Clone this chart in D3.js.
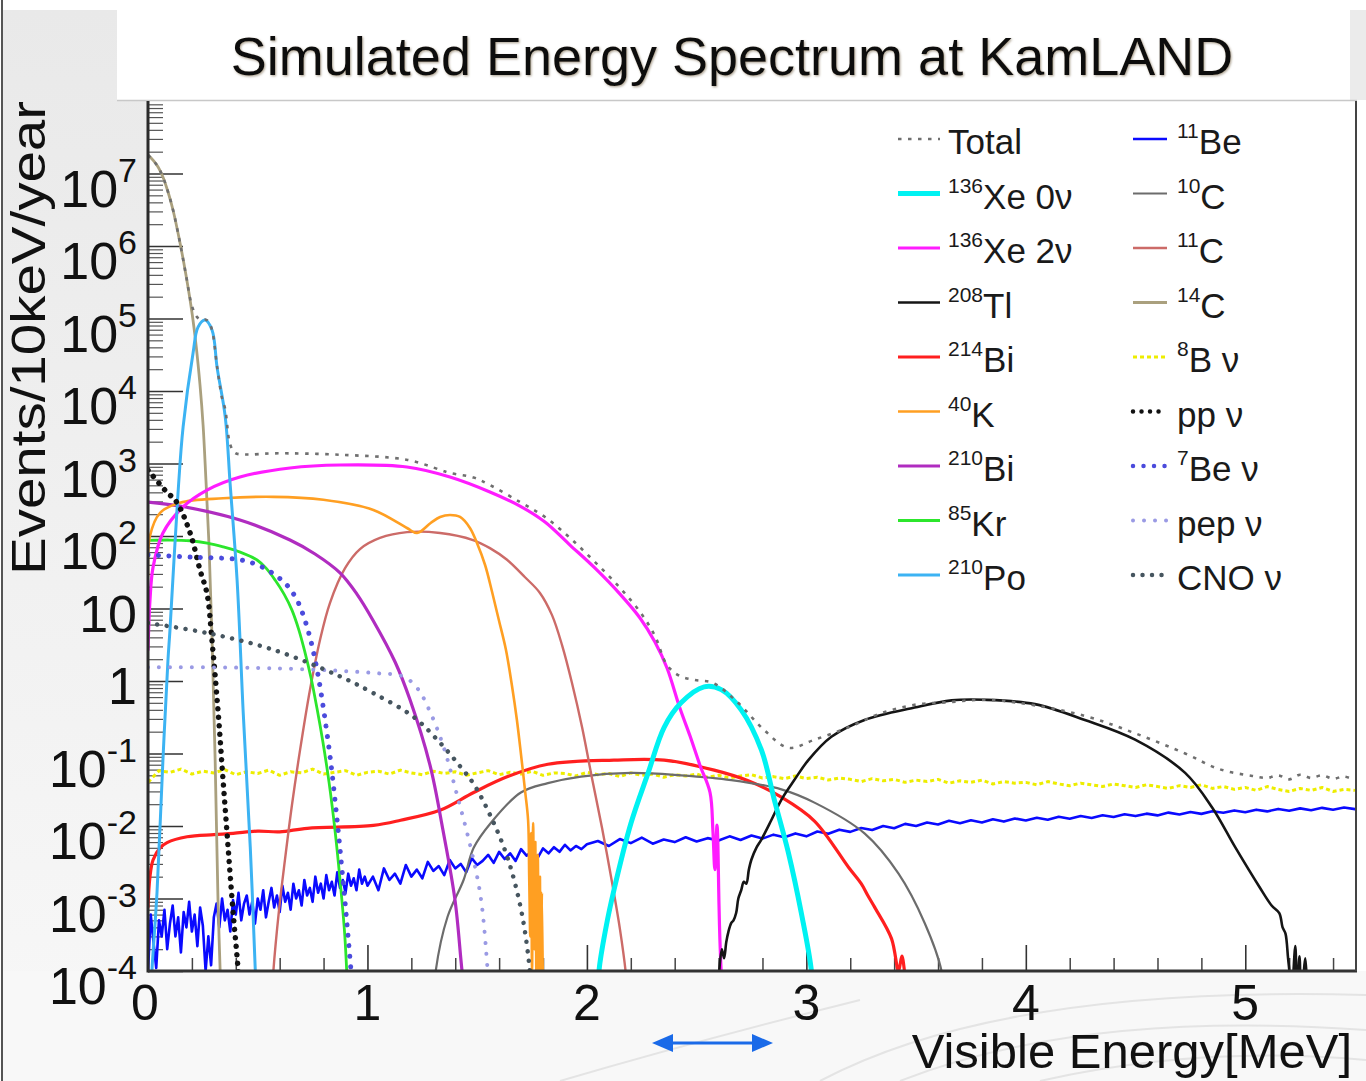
<!DOCTYPE html>
<html>
<head>
<meta charset="utf-8">
<script src="https://cdn.jsdelivr.net/npm/d3@7"></script>
<style>
  html, body { margin: 0; padding: 0; background: #fff; }
  svg { display: block; font-family: "Liberation Sans", Arial, Helvetica, sans-serif; }
</style>
</head>
<body>
<svg id="chart" width="1366" height="1081"></svg>
<script>
// ---------------- axis ticks ----------------
const xTickValues = [0, 1, 2, 3, 4, 5];
const xTickLabels = ['0', '1', '2', '3', '4', '5'];
const yTickValues = [1e-4, 1e-3, 1e-2, 1e-1, 1, 10, 1e2, 1e3, 1e4, 1e5, 1e6, 1e7];
const yTickBase   = ['10', '10', '10', '10', '1', '10', '10', '10', '10', '10', '10', '10'];
const yTickExp    = ['-4', '-3', '-2', '-1', '', '', '2', '3', '4', '5', '6', '7'];

// ---------------- spectra: [visible energy (MeV), events / 10 keV / year] ----------------
const total = [[0,1.8e7],[0.023,1.53e7],[0.046,1.23e7],[0.068,9.0e6],[0.091,5.6e6],[0.114,3.15e6],
  [0.146,1.1e6],[0.173,4.0e5],[0.2,1.5e5],[0.223,1.05e5],[0.245,9.5e4],[0.26,9.7e4],[0.276,9.0e4],
  [0.292,6.9e4],[0.315,2.15e4],[0.338,7.8e3],[0.352,5.6e3],[0.374,1.85e3],[0.397,1.4e3],[0.45,1.33e3],
  [0.571,1.38e3],[0.877,1.32e3],[1.183,1.12e3],[1.333,815],[1.376,740],[1.484,640],[1.558,505],[1.695,294],
  [1.809,183],[1.923,94],[2.037,43.7],[2.151,19.2],[2.242,9.0],[2.31,4.2],[2.365,1.66],[2.424,1.17],
  [2.493,1.03],[2.575,0.94],[2.689,0.5],[2.808,0.21],[2.918,0.12],[3.037,0.155],[3.192,0.23],[3.342,0.36],
  [3.493,0.47],[3.648,0.51],[3.799,0.55],[3.968,0.5],[4.269,0.33],[4.498,0.19],[4.726,0.1],[4.881,0.061],
  [5.032,0.049],[5.1,0.046],[5.15,0.05],[5.2,0.044],[5.25,0.051],[5.3,0.046],[5.35,0.05],[5.4,0.045],
  [5.45,0.048],[5.5,0.043]];

const xe0nu = [[2.05,3e-5],[2.055,1e-4],[2.087,4e-4],[2.123,1.3e-3],[2.201,0.011],[2.279,0.054],[2.352,0.23],
  [2.429,0.5],[2.534,0.83],[2.612,0.76],[2.703,0.4],[2.795,0.112],[2.854,0.023],[2.918,4.3e-3],[2.977,6.3e-4],
  [3.023,1e-4],[3.03,3e-5]];

const xe2nu = [[0,2.7],[0.009,13],[0.023,37],[0.068,110],[0.159,251],[0.269,430],[0.419,651],[0.647,867],
  [0.875,953],[1.18,895],[1.376,651],[1.558,405],[1.695,259],[1.809,156],[1.923,75],[2.037,36],[2.151,15.8],
  [2.242,7.4],[2.31,3.45],[2.365,1.51],[2.424,0.42],[2.47,0.174],[2.515,0.069],[2.561,0.029],[2.574,8.8e-3],
  [2.583,2.5e-3],[2.593,0.0103],[2.602,8e-4],[2.606,2.7e-4],[2.615,5.5e-5]];

const tl208 = [[2.595,3e-5],[2.603,1e-4],[2.615,2e-4],[2.625,1.5e-4],[2.635,2.5e-4],[2.645,3.5e-4],[2.658,4.6e-4],
  [2.668,5e-4],[2.68,6.3e-4],[2.69,1.0e-3],[2.703,1.3e-3],[2.715,1.7e-3],[2.726,1.6e-3],[2.738,2.5e-3],
  [2.749,3.4e-3],[2.772,5e-3],[2.795,6.5e-3],[2.84,0.012],[2.886,0.023],[2.945,0.043],[3.009,0.081],
  [3.114,0.17],[3.265,0.29],[3.493,0.43],[3.662,0.54],[3.813,0.55],[4.041,0.48],[4.269,0.29],[4.498,0.155],
  [4.726,0.054],[4.849,0.018],[4.954,5.1e-3],[5.064,1.45e-3],[5.12,8e-4],[5.155,6.3e-4],[5.17,4e-4],
  [5.183,3.3e-4],[5.195,1.5e-4],[5.201,1e-4],[5.21,4e-5],[5.228,2.2e-4],[5.235,5e-5],[5.247,1.6e-4],
  [5.255,4e-5],[5.274,1.5e-4],[5.285,3e-5]];

const bi214 = [[0,7.6e-4],[0.009,2e-3],[0.023,3.4e-3],[0.055,5e-3],[0.087,5.9e-3],[0.178,7.1e-3],[0.3,7.6e-3],
  [0.388,7.9e-3],[0.5,8.5e-3],[0.6,8.3e-3],[0.726,9.3e-3],[1.027,0.0102],[1.151,0.012],[1.333,0.0166],
  [1.484,0.029],[1.639,0.048],[1.822,0.071],[2.123,0.081],[2.352,0.081],[2.58,0.059],[2.735,0.042],
  [2.886,0.025],[3.037,0.0117],[3.192,2.7e-3],[3.25,1.6e-3],[3.28,1.1e-3],[3.311,7.6e-4],[3.388,2.8e-4],
  [3.42,1e-4],[3.435,1.6e-4],[3.447,1e-4],[3.46,3e-5]];

const k40 = [[0,28],[0.009,100],[0.055,209],[0.146,288],[0.342,331],[0.571,347],[0.799,316],[1.027,229],
  [1.18,129],[1.226,110],[1.288,151],[1.331,183],[1.376,195],[1.422,183],[1.467,129],[1.499,80],[1.536,39.8],
  [1.568,16.9],[1.599,6.9],[1.631,2.7],[1.658,0.88],[1.681,0.29],[1.7,0.095],[1.718,0.031],[1.732,0.012],
  [1.737,2e-3],[1.742,3e-4],[1.746,8e-3],[1.75,1e-4],[1.755,1.1e-2],[1.76,2e-4],[1.765,6e-3],[1.77,5e-5],
  [1.776,4e-3],[1.781,1e-4],[1.786,2e-3],[1.79,4e-5],[1.795,1.2e-3],[1.8,3e-5]];

const bi210 = [[0,294],[0.146,259],[0.419,166],[0.647,88],[0.761,56.5],[0.875,31],[0.952,15.8],[1.025,6.9],
  [1.126,1.83],[1.194,0.55],[1.285,0.069],[1.344,8.8e-3],[1.399,9.5e-4],[1.431,1e-4],[1.458,2e-5]];

const kr85 = [[0,87],[0.1,88],[0.192,86],[0.27,80],[0.342,71],[0.42,60],[0.497,46.7],[0.538,36],[0.579,24.7],
  [0.62,15.8],[0.656,9.5],[0.688,5.0],[0.715,2.5],[0.743,1.1],[0.77,0.42],[0.797,0.144],[0.825,0.04],
  [0.852,8.8e-3],[0.875,1.8e-3],[0.897,3e-4],[0.915,2e-5]];

const po210 = [[0.012,3e-5],[0.018,1e-4],[0.041,1.2e-3],[0.068,0.081],[0.091,1.95],[0.1,5.0],[0.137,400],
  [0.16,3.2e3],[0.205,3.3e4],[0.228,7.6e4],[0.26,9.5e4],[0.292,6.9e4],[0.315,2.1e4],[0.352,4.4e3],
  [0.374,537],[0.406,24.5],[0.434,0.36],[0.466,5.1e-3],[0.489,1e-4],[0.495,3e-5]];

// 11Be bin contents: 12.5 keV steps below 1 MeV, 25 keV up to 2 MeV, 50 keV above
const be11Fine = [1.0e-4,6.0e-4,2.5e-4,1.1e-4,5.0e-4,3.0e-4,7.0e-4,2.0e-4,4.5e-4,8.0e-4,
  3.0e-4,5.5e-4,1.8e-4,6.5e-4,4.0e-4,9.0e-4,3.5e-4,6.0e-4,2.2e-4,7.5e-4,
  4.2e-4,1.0e-4,3.0e-4,1.2e-4,5.5e-4,8.5e-4,4.0e-4,1.0e-3,5.0e-4,7.0e-4,
  3.5e-4,9.5e-4,6.0e-4,1.2e-3,5.0e-4,8.5e-4,1.1e-3,6.0e-4,9.0e-4,4.5e-4,
  1.0e-3,7.0e-4,1.3e-3,5.5e-4,9.0e-4,1.4e-3,7.5e-4,1.1e-3,6.5e-4,1.5e-3,
  9.0e-4,1.2e-3,7.0e-4,1.6e-3,1.0e-3,1.3e-3,8.0e-4,1.8e-3,1.1e-3,1.4e-3,
  9.0e-4,2.0e-3,1.2e-3,1.6e-3,1.0e-3,2.1e-3,1.3e-3,1.7e-3,1.1e-3,2.3e-3,
  1.4e-3,1.8e-3,1.2e-3,2.2e-3,1.5e-3,1.9e-3,1.3e-3,2.5e-3,1.6e-3,2.0e-3];
const be11Mid = [1.5e-3,2.0e-3,1.3e-3,2.6e-3,1.8e-3,2.2e-3,1.6e-3,2.9e-3,2.0e-3,2.5e-3,
  1.9e-3,3.2e-3,2.4e-3,2.8e-3,2.1e-3,3.4e-3,2.6e-3,3.0e-3,2.3e-3,3.6e-3,
  2.9e-3,3.3e-3,4.0e-3,3.1e-3,4.4e-3,3.5e-3,4.2e-3,3.3e-3,4.8e-3,3.9e-3,
  4.5e-3,3.6e-3,4.9e-3,4.2e-3,5.1e-3,4.4e-3,5.5e-3,4.6e-3,5.3e-3,4.8e-3,5.6e-3];
const be11High = [6.2e-3,5.3e-3,6.6e-3,5.8e-3,6.9e-3,5.7e-3,6.5e-3,6.0e-3,7.0e-3,6.1e-3,6.8e-3,6.3e-3,7.2e-3,
  6.4e-3,7.4e-3,6.7e-3,7.6e-3,7.0e-3,7.9e-3,7.2e-3,8.4e-3,7.8e-3,8.9e-3,8.3e-3,9.4e-3,8.8e-3,1.0e-2,9.3e-3,
  1.07e-2,1.0e-2,1.12e-2,1.05e-2,1.18e-2,1.09e-2,1.2e-2,1.12e-2,1.24e-2,1.15e-2,1.27e-2,1.19e-2,1.3e-2,
  1.22e-2,1.34e-2,1.26e-2,1.37e-2,1.29e-2,1.41e-2,1.33e-2,1.45e-2,1.37e-2,1.48e-2,1.4e-2,1.53e-2,1.44e-2,
  1.56e-2,1.47e-2,1.6e-2,1.52e-2,1.64e-2,1.55e-2,1.68e-2,1.59e-2,1.72e-2,1.62e-2,1.75e-2,1.65e-2,1.78e-2,
  1.68e-2,1.8e-2,1.71e-2];

const c10 = [[1.3,3e-5],[1.311,1e-4],[1.365,5.6e-4],[1.438,1.8e-3],[1.484,5e-3],[1.562,0.011],[1.699,0.029],
  [1.822,0.039],[1.973,0.048],[2.201,0.054],[2.429,0.05],[2.658,0.043],[2.886,0.032],[3.037,0.021],
  [3.265,7.9e-3],[3.42,2.2e-3],[3.539,4.6e-4],[3.616,1e-4],[3.63,3e-5]];

const c11 = [[0.56,2e-5],[0.57,8.8e-5],[0.597,6.9e-4],[0.624,3.4e-3],[0.656,0.0195],[0.693,0.112],[0.738,0.75],
  [0.784,3.7],[0.829,11.9],[0.898,36],[0.966,66],[1.057,94],[1.18,113],[1.331,110],[1.481,88],[1.558,68],
  [1.636,47],[1.718,27],[1.786,16.4],[1.841,8.1],[1.887,3.1],[1.932,0.94],[1.978,0.23],[2.023,0.046],
  [2.069,9.4e-3],[2.114,1.7e-3],[2.151,3.7e-4],[2.178,8.8e-5],[2.19,2e-5]];

const c14 = [[0,1.8e7],[0.023,1.53e7],[0.046,1.23e7],[0.068,8.96e6],[0.091,5.6e6],[0.114,3.14e6],[0.146,1.1e6],
  [0.173,3.98e5],[0.2,1.23e5],[0.219,4.3e4],[0.237,1.21e4],[0.251,3.4e3],[0.264,592],[0.278,75],[0.292,3.7],
  [0.306,0.081],[0.319,9.5e-4],[0.333,4e-5]];

// 8B neutrinos, 50 keV steps from 0 to 5.5 MeV
const b8nu = [0.040,0.058,0.055,0.061,0.052,0.057,0.054,0.060,0.051,0.056,
  0.053,0.059,0.050,0.056,0.054,0.061,0.052,0.055,0.058,0.050,
  0.055,0.057,0.052,0.059,0.054,0.051,0.057,0.053,0.056,0.050,
  0.054,0.058,0.051,0.055,0.052,0.057,0.050,0.054,0.053,0.049,
  0.055,0.051,0.053,0.048,0.054,0.050,0.052,0.047,0.051,0.049,
  0.052,0.047,0.050,0.046,0.049,0.051,0.046,0.048,0.045,0.049,
  0.045,0.047,0.043,0.046,0.044,0.041,0.045,0.042,0.044,0.040,
  0.043,0.041,0.044,0.039,0.042,0.040,0.043,0.038,0.041,0.039,
  0.040,0.037,0.041,0.038,0.036,0.039,0.037,0.035,0.038,0.036,
  0.034,0.037,0.035,0.033,0.036,0.034,0.037,0.033,0.035,0.032,
  0.034,0.031,0.035,0.032,0.030,0.033,0.031,0.034,0.030,0.032,0.031];

const ppnu = [[0,810],[0.078,427],[0.132,288],[0.192,110],[0.237,34],[0.269,16],[0.292,3.5],[0.32,0.36],
  [0.342,0.043],[0.365,5.1e-3],[0.388,6.3e-4],[0.411,1e-4],[0.42,3e-5]];

const be7nu = [[0,55],[0.2,51],[0.419,47],[0.51,38.6],[0.579,29],[0.633,21],[0.679,13.1],[0.715,6.9],
  [0.747,3.1],[0.775,1.2],[0.802,0.37],[0.83,0.089],[0.857,0.0166],[0.884,2.5e-3],[0.911,3.2e-4],[0.934,4.7e-5]];

const pepnu = [[0,1.55],[0.571,1.5],[1.027,1.29],[1.164,1.15],[1.228,0.79],[1.288,0.36],[1.347,0.123],
  [1.411,0.025],[1.47,5.1e-3],[1.516,1.05e-3],[1.548,1e-4],[1.56,3e-5]];

const cnonu = [[0,6.3],[0.269,4.6],[0.571,2.7],[0.877,1.15],[1.027,0.68],[1.21,0.32],[1.333,0.138],
  [1.425,0.065],[1.484,0.038],[1.562,0.0135],[1.639,3.6e-3],[1.703,6.3e-4],[1.74,1e-4],[1.75,3e-5]];

// legend text
const legendSupLeft  = ['', '136', '136', '208', '214', '40', '210', '85', '210'];
const legendMainLeft = ['Total', 'Xe 0ν', 'Xe 2ν', 'Tl', 'Bi', 'K', 'Bi', 'Kr', 'Po'];
const legendSupRight  = ['11', '10', '11', '14', '8', '', '7', '', ''];
const legendMainRight = ['Be', 'C', 'C', 'C', 'B ν', 'pp ν', 'Be ν', 'pep ν', 'CNO ν'];

// ---------------- build binned series ----------------
const be11 = be11Fine.map((v, i) => [i * 0.0125, v])
  .concat(be11Mid.map((v, i) => [1.0 + i * 0.025, v]))
  .concat(be11High.map((v, i) => [2.05 + i * 0.05, v]));
const b8 = b8nu.map((v, i) => [i * 0.05, v]);

// ---------------- styles ----------------
const styles = {
  total: { color: '#6f6f6f', width: 2.6, dash: '3.5 6.5', cap: 'butt' },
  xe0:   { color: '#00f2f2', width: 5,   dash: null },
  xe2:   { color: '#ff1cff', width: 3.2, dash: null },
  tl:    { color: '#151515', width: 2.6, dash: null },
  bi214: { color: '#ff1f1f', width: 3.2, dash: null },
  k40:   { color: '#ff9f22', width: 2.6, dash: null },
  bi210: { color: '#b02cc0', width: 3.2, dash: null },
  kr:    { color: '#2ce62c', width: 2.8, dash: null },
  po:    { color: '#3cb3f3', width: 3,   dash: null },
  be11:  { color: '#0a0aff', width: 2.6, dash: null },
  c10:   { color: '#6c6c6c', width: 2.2, dash: null },
  c11:   { color: '#cc6b68', width: 2.4, dash: null },
  c14:   { color: '#aaa07e', width: 2.8, dash: null },
  b8:    { color: '#eded00', width: 3,   dash: '4 3', cap: 'butt' },
  pp:    { color: '#111111', width: 5.5, dash: '0.01 8.5', cap: 'round' },
  be7:   { color: '#4b4bdc', width: 5,   dash: '0.01 10.5', cap: 'round' },
  pep:   { color: '#9a9ae4', width: 4,   dash: '0.01 11', cap: 'round' },
  cno:   { color: '#46555f', width: 4.5, dash: '0.01 9.5', cap: 'round' }
};
const legendKeysLeft  = ['total', 'xe0', 'xe2', 'tl', 'bi214', 'k40', 'bi210', 'kr', 'po'];
const legendKeysRight = ['be11', 'c10', 'c11', 'c14', 'b8', 'pp', 'be7', 'pep', 'cno'];

// ---------------- layout ----------------
const W = 1366, H = 1081;
const plot = { left: 148, right: 1355, top: 101, bottom: 971 };
const x = d3.scaleLinear().domain([0, 5.5]).range([plot.left, plot.right]);
const y = d3.scaleLog().domain([1e-4, 1e8]).range([plot.bottom, plot.top]);

const svg = d3.select('#chart');
const defs = svg.append('defs');

const grad = defs.append('linearGradient').attr('id', 'sideGrad')
  .attr('x1', 0).attr('y1', 0).attr('x2', 0).attr('y2', 1);
grad.append('stop').attr('offset', '0%').attr('stop-color', '#e9e9e9');
grad.append('stop').attr('offset', '100%').attr('stop-color', '#f8f8f8');

const shadow = defs.append('filter').attr('id', 'titleShadow')
  .attr('x', '-5%').attr('y', '-20%').attr('width', '110%').attr('height', '140%');
shadow.append('feDropShadow').attr('dx', 1).attr('dy', 1.2).attr('stdDeviation', 0.9)
  .attr('flood-color', '#7a6a50').attr('flood-opacity', 0.6);

defs.append('clipPath').attr('id', 'plotClip').append('rect')
  .attr('x', plot.left).attr('y', plot.top)
  .attr('width', plot.right - plot.left + 1).attr('height', plot.bottom - plot.top);

// page background
svg.append('rect').attr('width', W).attr('height', H).attr('fill', '#ffffff');
svg.append('rect').attr('x', 3).attr('y', 10).attr('width', plot.left - 3).attr('height', H - 10)
  .attr('fill', 'url(#sideGrad)');
svg.append('rect').attr('x', 3).attr('y', plot.bottom).attr('width', W - 3).attr('height', H - plot.bottom)
  .attr('fill', '#f8f8f8');
svg.append('rect').attr('x', 1350).attr('y', 10).attr('width', 16).attr('height', 90).attr('fill', '#ebebeb');

// faint decorative swirls in the lower band
const swirl = svg.append('g').attr('fill', 'none').attr('stroke', '#e4e4e4').attr('stroke-width', 2);
swirl.append('path').attr('d', 'M 820 1081 Q 1000 985 1366 995');
swirl.append('path').attr('d', 'M 900 1081 Q 1080 1010 1366 1030');
swirl.append('path').attr('d', 'M 560 1081 Q 700 1040 860 1000');
swirl.append('path').attr('d', 'M 1040 1081 Q 1200 1045 1366 1060');

// left border line
svg.append('line').attr('x1', 2).attr('x2', 2).attr('y1', 0).attr('y2', H)
  .attr('stroke', '#555').attr('stroke-width', 2);

// title pave
svg.append('rect').attr('x', 117).attr('y', 10).attr('width', 1233).attr('height', 90).attr('fill', '#ffffff');
svg.append('text').attr('x', 732).attr('y', 75).attr('text-anchor', 'middle')
  .attr('font-size', 54).attr('fill', '#111').attr('filter', 'url(#titleShadow)')
  .text('Simulated Energy Spectrum at KamLAND');

// plot area
svg.append('rect').attr('x', plot.left).attr('y', plot.top)
  .attr('width', plot.right - plot.left).attr('height', plot.bottom - plot.top).attr('fill', '#ffffff');
svg.append('line').attr('x1', 117).attr('x2', plot.right + 2).attr('y1', 100.5).attr('y2', 100.5)
  .attr('stroke', '#c8c8c8').attr('stroke-width', 1.5);

// ---------------- axes ----------------
const yMinor = [];
for (let d = -4; d < 8; d++) for (let k = 2; k <= 9; k++) yMinor.push(k * Math.pow(10, d));
const xMinor = d3.range(0, 5.51, 0.2).filter(v => Math.abs(v - Math.round(v)) > 1e-6);

function styleAxis(g, color, width) {
  g.select('.domain').remove();
  g.selectAll('.tick line').attr('stroke', color).attr('stroke-width', width);
  g.selectAll('.tick text').remove();
}

svg.append('g').attr('transform', `translate(${plot.left},0)`)
  .call(d3.axisLeft(y).tickValues(yMinor).tickSize(-15).tickFormat(''))
  .call(g => styleAxis(g, '#555', 1.2));
svg.append('g').attr('transform', `translate(${plot.left},0)`)
  .call(d3.axisLeft(y).tickValues(yTickValues).tickSize(-35).tickFormat(''))
  .call(g => styleAxis(g, '#333', 1.6));
svg.append('g').attr('transform', `translate(0,${plot.bottom})`)
  .call(d3.axisBottom(x).tickValues(xMinor).tickSize(-13).tickFormat(''))
  .call(g => styleAxis(g, '#444', 1.5));
svg.append('g').attr('transform', `translate(0,${plot.bottom})`)
  .call(d3.axisBottom(x).tickValues(xTickValues).tickSize(-26).tickFormat(''))
  .call(g => styleAxis(g, '#333', 1.6));

// ---------------- spectra ----------------
const lineGen = d3.line().x(d => x(d[0])).y(d => y(d[1]));
const smooth = d3.curveCatmullRom.alpha(0.5);
const series = [
  { data: be11, key: 'be11', curve: d3.curveLinear },
  { data: b8, key: 'b8', curve: d3.curveLinear },
  { data: bi214, key: 'bi214', curve: smooth },
  { data: c10, key: 'c10', curve: smooth },
  { data: c11, key: 'c11', curve: smooth },
  { data: c14, key: 'c14', curve: smooth },
  { data: kr85, key: 'kr', curve: smooth },
  { data: bi210, key: 'bi210', curve: smooth },
  { data: k40, key: 'k40', curve: smooth },
  { data: xe2nu, key: 'xe2', curve: smooth },
  { data: tl208, key: 'tl', curve: smooth },
  { data: xe0nu, key: 'xe0', curve: smooth },
  { data: po210, key: 'po', curve: smooth },
  { data: ppnu, key: 'pp', curve: smooth },
  { data: be7nu, key: 'be7', curve: smooth },
  { data: pepnu, key: 'pep', curve: smooth },
  { data: cnonu, key: 'cno', curve: smooth },
  { data: total, key: 'total', curve: smooth }
];

const plotG = svg.append('g').attr('clip-path', 'url(#plotClip)');
series.forEach(s => {
  const st = styles[s.key];
  plotG.append('path')
    .attr('d', lineGen.curve(s.curve)(s.data))
    .attr('fill', 'none')
    .attr('stroke', st.color)
    .attr('stroke-width', st.width)
    .attr('stroke-linejoin', 'round')
    .attr('stroke-linecap', st.cap || 'round')
    .attr('stroke-dasharray', st.dash);
});

// frame
svg.append('line').attr('x1', plot.left).attr('x2', plot.left).attr('y1', plot.top).attr('y2', plot.bottom + 1.5)
  .attr('stroke', '#2a2a2a').attr('stroke-width', 3);
svg.append('line').attr('x1', plot.left).attr('x2', plot.right + 2).attr('y1', plot.bottom).attr('y2', plot.bottom)
  .attr('stroke', '#333').attr('stroke-width', 3);
svg.append('line').attr('x1', plot.right + 1).attr('x2', plot.right + 1).attr('y1', plot.top).attr('y2', plot.bottom)
  .attr('stroke', '#444').attr('stroke-width', 2);

// ---------------- tick labels ----------------
const yLab = svg.append('g').attr('fill', '#111').attr('text-anchor', 'end');
yTickValues.forEach((v, i) => {
  const ty = y(v);
  if (yTickExp[i]) {
    const t = yLab.append('text').attr('x', 137).attr('y', ty + 33).attr('font-size', 52);
    t.append('tspan').text(yTickBase[i]);
    t.append('tspan').attr('dy', -25).attr('font-size', 34).text(yTickExp[i]);
  } else {
    yLab.append('text').attr('x', 137).attr('y', ty + 23).attr('font-size', 52).text(yTickBase[i]);
  }
});

const xLab = svg.append('g').attr('fill', '#111').attr('text-anchor', 'middle');
xTickValues.forEach((v, i) => {
  xLab.append('text').attr('x', x(v) - (v === 0 ? 3 : 0)).attr('y', 1020).attr('font-size', 50).text(xTickLabels[i]);
});

// axis titles
svg.append('text').attr('x', 1352).attr('y', 1068).attr('text-anchor', 'end')
  .attr('font-size', 49).attr('fill', '#111').text('Visible Energy[MeV]');
svg.append('text').attr('transform', 'translate(45,575) rotate(-90)')
  .attr('font-size', 48).attr('fill', '#111').attr('textLength', 474).attr('lengthAdjust', 'spacingAndGlyphs')
  .text('Events/10keV/year');

// ---------------- legend ----------------
const legend = svg.append('g');
function legendColumn(keys, sups, mains, lineX0, lineX1, textX) {
  keys.forEach((k, i) => {
    const ry = 139 + i * 54.5;
    const st = styles[k];
    legend.append('line').attr('x1', lineX0).attr('x2', lineX1).attr('y1', ry).attr('y2', ry)
      .attr('stroke', st.color)
      .attr('stroke-width', st.dash ? Math.min(st.width, 4.5) : st.width)
      .attr('stroke-linecap', st.cap || 'butt')
      .attr('stroke-dasharray', st.dash);
    const t = legend.append('text').attr('x', textX).attr('y', ry + 15).attr('font-size', 35).attr('fill', '#1a1a1a');
    if (sups[i]) {
      t.append('tspan').attr('font-size', 21).attr('dy', -16).text(sups[i]);
      t.append('tspan').attr('dy', 16).text(mains[i]);
    } else {
      t.text(mains[i]);
    }
  });
}
legendColumn(legendKeysLeft, legendSupLeft, legendMainLeft, 898, 940, 948);
legendColumn(legendKeysRight, legendSupRight, legendMainRight, 1133, 1167, 1177);

// ---------------- energy window arrow ----------------
const arrow = svg.append('g').attr('fill', '#1a6ae8').attr('stroke', '#1a6ae8');
arrow.append('line').attr('x1', 668).attr('x2', 757).attr('y1', 1043).attr('y2', 1043).attr('stroke-width', 3);
arrow.append('path').attr('stroke', 'none').attr('d', 'M 652 1043 L 673 1034 L 673 1052 Z');
arrow.append('path').attr('stroke', 'none').attr('d', 'M 773 1043 L 752 1034 L 752 1052 Z');
</script>
</body>
</html>
